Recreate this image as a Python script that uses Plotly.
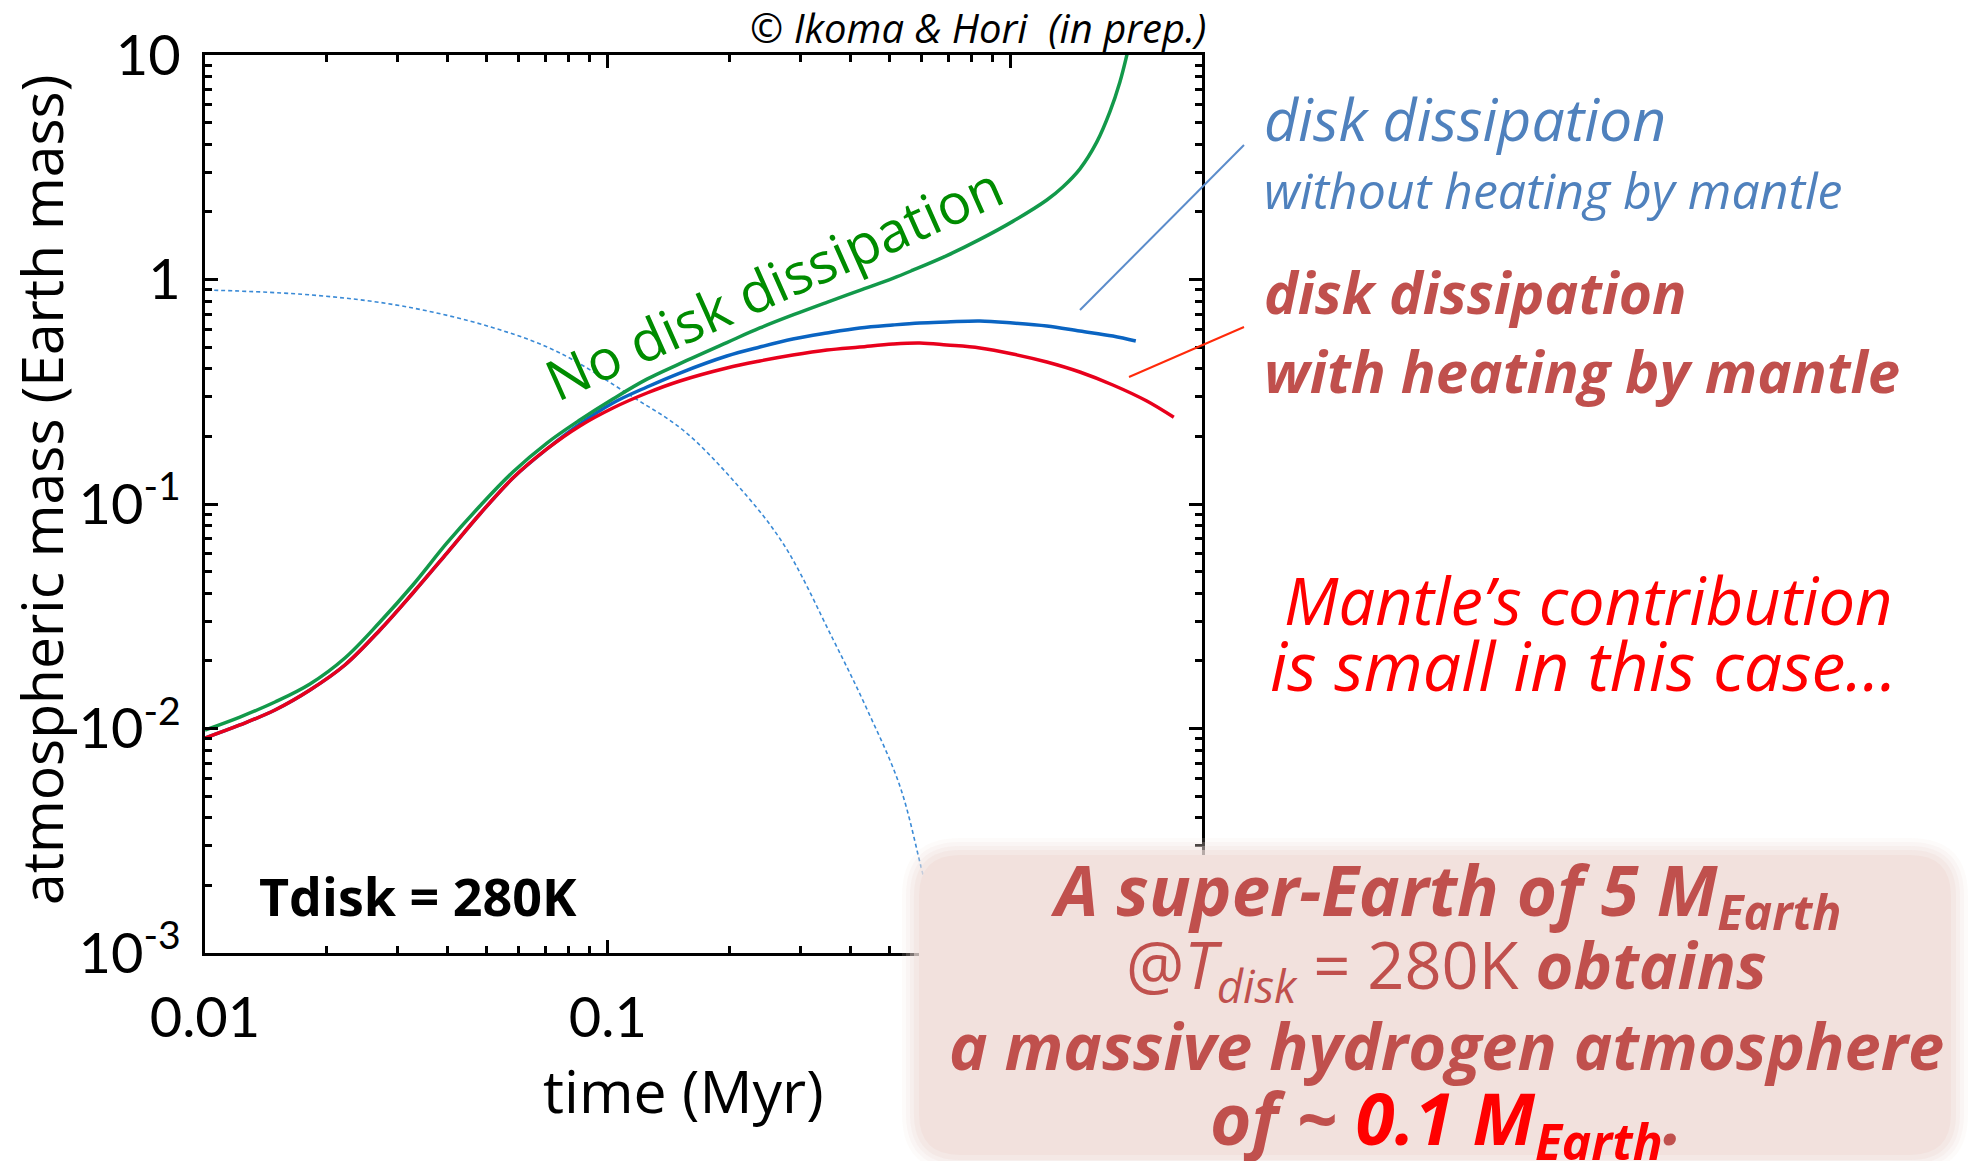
import plotly.graph_objects as go

# ---------------------------------------------------------------------------
# Atmospheric mass of a 5 M_Earth super-Earth vs. time (T_disk = 280 K)
# ---------------------------------------------------------------------------

# No disk dissipation
t_nodiss = [0.01000, 0.01221, 0.01492, 0.01822, 0.02225, 0.02718, 0.03281, 0.03986,
            0.04812, 0.05810, 0.07058, 0.08520, 0.1029, 0.1250, 0.1509, 0.1973,
            0.2383, 0.2877, 0.3495, 0.4219, 0.5095, 0.5711, 0.6938, 0.8378, 1.0115,
            1.2284, 1.3458, 1.4831, 1.6350, 1.7612, 1.8646, 1.9408, 1.9862]
m_nodiss = [0.009847, 0.01125, 0.01312, 0.01579, 0.02061, 0.02981, 0.04357, 0.06705,
            0.09797, 0.1388, 0.1869, 0.2367, 0.2935, 0.3598, 0.4220, 0.5237,
            0.6082, 0.6949, 0.7913, 0.8947, 1.0120, 1.0998, 1.2771, 1.5085, 1.8151,
            2.2602, 2.5826, 3.1029, 4.1003, 5.5771, 7.5700, 9.9992, 12.052]

# Disk dissipation, without heating by the mantle
t_noheat = [0.01000, 0.01221, 0.01492, 0.01822, 0.02225, 0.02718, 0.03281, 0.03986,
            0.04812, 0.05810, 0.07058, 0.08520, 0.1029, 0.1250, 0.1509, 0.1973,
            0.2383, 0.2877, 0.3495, 0.4219, 0.5095, 0.5944, 0.6938, 0.8378, 1.0115,
            1.2284, 1.4831, 1.7916, 2.0424]
m_noheat = [0.009072, 0.01037, 0.01209, 0.01484, 0.01918, 0.02746, 0.04014, 0.06048,
            0.09024, 0.1305, 0.1758, 0.2272, 0.2818, 0.3321, 0.3832, 0.4562,
            0.5004, 0.5432, 0.5777, 0.6081, 0.6271, 0.6401, 0.6467, 0.6534, 0.6401,
            0.6207, 0.5896, 0.5601, 0.5321]

# Disk dissipation, with heating by the mantle
t_heat = [0.01000, 0.01221, 0.01492, 0.01822, 0.02225, 0.02718, 0.03281, 0.03986,
          0.04812, 0.05810, 0.07058, 0.08520, 0.1029, 0.1250, 0.1509, 0.1973,
          0.2383, 0.2877, 0.3495, 0.4219, 0.5095, 0.5944, 0.6938, 0.8378, 1.0115,
          1.2284, 1.4831, 1.7916, 2.1754, 2.5380]
m_heat = [0.009072, 0.01037, 0.01209, 0.01484, 0.01918, 0.02746, 0.04014, 0.06048,
          0.09024, 0.1305, 0.1758, 0.2226, 0.2677, 0.3122, 0.3531, 0.4034,
          0.4335, 0.4609, 0.4852, 0.5004, 0.5160, 0.5213, 0.5108, 0.4953, 0.4657,
          0.4291, 0.3872, 0.3389, 0.2875, 0.2433]

# Dissipating disk gas (dashed reference curve)
t_gas = [0.01012, 0.01842, 0.03083, 0.05125, 0.07512, 0.1153, 0.1535, 0.2042,
         0.2717, 0.3617, 0.4393, 0.5304, 0.6048, 0.680]
m_gas = [0.898, 0.853, 0.762, 0.614, 0.4755, 0.2996, 0.2136, 0.1279, 0.0670,
         0.02504, 0.01221, 0.005544, 0.002248, 0.001]

y_tickvals = [0.001, 0.01, 0.1, 1, 10]
y_ticktext = ["10<sup>-3</sup>", "10<sup>-2</sup>", "10<sup>-1</sup>", "1", "10"]
x_tickvals = [0.01, 0.1, 1]
x_ticktext = ["0.01", "0.1", "1"]

# ---------------------------------------------------------------------------
W, H = 1973, 1161
L, R, T, B = 205, 1202, 55, 953          # plotting area on the page (px)
AXFONT = "Lato, 'Open Sans', sans-serif"
TXFONT = "'Open Sans', Lato, sans-serif"


def px(x):
    return (x - L) / (R - L)


def py(y):
    return (B - y) / (B - T)


minor_x = [m * d for d in (0.01, 0.1) for m in range(2, 10)]
minor_y = [m * d for d in (0.001, 0.01, 0.1, 1) for m in range(2, 10)]

fig = go.Figure()

curve = dict(mode="lines", line_shape="spline", hoverinfo="skip")
fig.add_trace(go.Scatter(x=t_gas, y=m_gas,
                         line=dict(color="#3a8ad6", width=1.6, dash="4px,3px",
                                   smoothing=1.0), **curve))
fig.add_trace(go.Scatter(x=t_noheat, y=m_noheat,
                         line=dict(color="#0a64c2", width=3.5, smoothing=1.0), **curve))
fig.add_trace(go.Scatter(x=t_heat, y=m_heat,
                         line=dict(color="#e8001c", width=3.5, smoothing=1.0), **curve))
fig.add_trace(go.Scatter(x=t_nodiss, y=m_nodiss,
                         line=dict(color="#12994a", width=3.5, smoothing=1.0), **curve))

axis_common = dict(
    showline=True, linecolor="black", linewidth=3, mirror="allticks",
    ticks="inside", ticklen=13, tickwidth=2.5, tickcolor="black",
    showgrid=False, zeroline=False,
    tickfont=dict(family=AXFONT, size=56, color="black"),
)

fig.update_xaxes(type="log", range=[-2, 0.4745], tickvals=x_tickvals,
                 ticktext=x_ticktext, ticklabelstandoff=14,
                 minor=dict(tickvals=minor_x, ticks="inside", ticklen=7,
                            tickwidth=2.5, tickcolor="black", showgrid=False),
                 **axis_common)
fig.update_yaxes(type="log", range=[-3, 1], tickvals=y_tickvals,
                 ticktext=y_ticktext, ticklabelstandoff=10,
                 minor=dict(tickvals=minor_y, ticks="inside", ticklen=7,
                            tickwidth=2.5, tickcolor="black", showgrid=False),
                 **axis_common)

shapes = []

# leader lines from the labels to the curves
shapes.append(dict(type="line", xref="paper", yref="paper",
                   x0=px(1080), y0=py(310), x1=px(1244), y1=py(145),
                   line=dict(color="#5b8ccb", width=2), layer="above"))
shapes.append(dict(type="line", xref="paper", yref="paper",
                   x0=px(1129), y0=py(377), x1=px(1244), y1=py(327),
                   line=dict(color="#ff2a0a", width=2), layer="above"))


def rounded_box(x0, y0, x1, y1, r):
    def P(x, y):
        return f"{px(x):.5f},{py(y):.5f}"
    return (f"M {P(x0 + r, y0)} L {P(x1 - r, y0)} Q {P(x1, y0)} {P(x1, y0 + r)} "
            f"L {P(x1, y1 - r)} Q {P(x1, y1)} {P(x1 - r, y1)} "
            f"L {P(x0 + r, y1)} Q {P(x0, y1)} {P(x0, y1 - r)} "
            f"L {P(x0, y0 + r)} Q {P(x0, y0)} {P(x0 + r, y0)} Z")


# summary panel with soft edges
BOX = (914, 850, 1956, 1160)
for grow, op in [(12, 0.14), (8, 0.2), (4, 0.3), (0, 0.5), (-5, 1.0)]:
    shapes.append(dict(type="path", xref="paper", yref="paper",
                       path=rounded_box(BOX[0] - grow, BOX[1] - grow,
                                        BOX[2] + grow, BOX[3] + grow, 46 + grow),
                       fillcolor="#f2e1dd", opacity=op, line=dict(width=0),
                       layer="above"))

ann = []


def text(x, y, s, size, color="black", xanchor="center", yanchor="middle",
         angle=0, family=TXFONT):
    ann.append(dict(x=px(x), y=py(y), xref="paper", yref="paper", text=s,
                    showarrow=False, xanchor=xanchor, yanchor=yanchor,
                    textangle=angle,
                    font=dict(family=family, size=size, color=color)))


# axis titles
text(683, 1090, "time (Myr)", 59)
text(41, 490, "atmospheric mass (Earth mass)", 57, angle=-90)

# credit
text(1208, 27, "<i>© Ikoma &amp; Hori  (in prep.)</i>", 40, xanchor="right")

# in-plot labels
text(418, 895, "<b>Tdisk = 280K</b>", 52)
text(773, 282, "No disk dissipation", 56, color="#008c00", angle=-24)

BLUE_TXT = "#4f81bd"
RED_TXT = "#c0504d"
text(1262, 118, "<i>disk dissipation</i>", 59, BLUE_TXT, xanchor="left")
text(1262, 190, "<i>without heating by mantle</i>", 50, BLUE_TXT, xanchor="left")
text(1262, 292, "<b><i>disk dissipation</i></b>", 57, RED_TXT, xanchor="left")
text(1262, 370, "<b><i>with heating by mantle</i></b>", 58, RED_TXT, xanchor="left")

text(1588, 600, "<i>Mantle’s contribution</i>", 65, "#ff0000")
text(1583, 665, "<i>is small in this case…</i>", 68, "#ff0000")

# summary text in the panel
CX = 1446
text(CX, 893, "<b><i>A super-Earth of 5 M<sub>Earth</sub></i></b>", 69, RED_TXT)
text(CX, 968, "@<i>T<sub>disk</sub></i> = 280K <b><i>obtains</i></b>", 65, RED_TXT)
text(CX, 1045, "<b><i>a massive hydrogen atmosphere</i></b>", 65, RED_TXT)
text(CX, 1122, "<b><i>of ~ <span style='color:#ff0000'>0.1 M<sub>Earth</sub></span>.</i></b>",
     71, RED_TXT)

fig.update_layout(
    width=W, height=H,
    margin=dict(l=L, r=W - R, t=T, b=H - B, pad=0),
    paper_bgcolor="white", plot_bgcolor="white",
    showlegend=False,
    shapes=shapes, annotations=ann,
)

fig.write_html("out.html")
